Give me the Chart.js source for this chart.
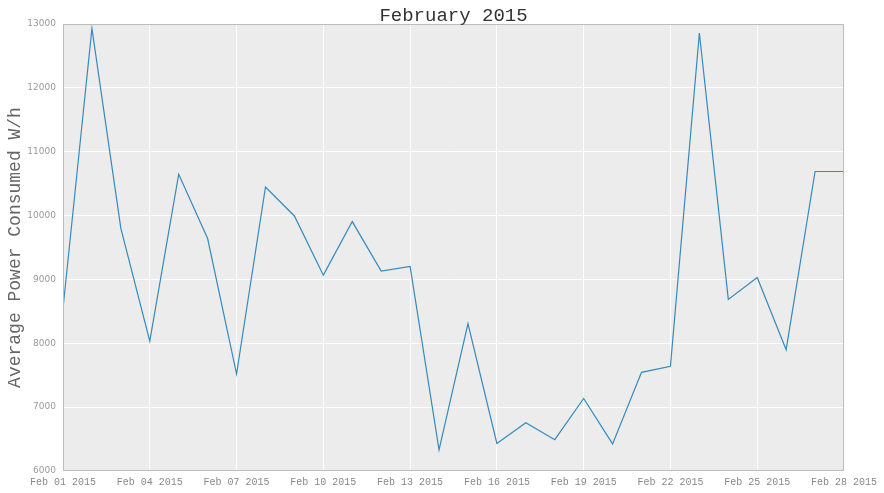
<!DOCTYPE html>
<html>
<head>
<meta charset="utf-8">
<script src="https://cdn.jsdelivr.net/npm/chart.js@4"></script>
<style>
html,body{margin:0;padding:0;background:#fff;}
#wrap{width:884px;height:493px;}
</style>
</head>
<body>
<div id="wrap"><canvas id="c" width="884" height="493"></canvas></div>
<script>
const days = [1,2,3,4,5,6,7,8,9,10,11,12,13,14,15,16,17,18,19,20,21,22,23,24,25,26,27,28];
const power = [8545,12930,9800,8033,10647,9640,7519,10448,9994,9067,9906,9130,9204,6330,8307,6431,6756,6490,7136,6425,7545,7640,12859,8687,9031,7900,10690,10690];
const xTickLabels = {1:'Feb 01 2015',4:'Feb 04 2015',7:'Feb 07 2015',10:'Feb 10 2015',13:'Feb 13 2015',16:'Feb 16 2015',19:'Feb 19 2015',22:'Feb 22 2015',25:'Feb 25 2015',28:'Feb 28 2015'};
const titleText = 'February 2015';
const yLabel = 'Average Power Consumed W/h';

const bgPlugin = {
  id:'bg',
  beforeDraw(chart){
    const a = chart.chartArea, ctx = chart.ctx;
    ctx.save();
    ctx.fillStyle = '#ececec';
    ctx.fillRect(a.left, a.top, a.right-a.left, a.bottom-a.top);
    ctx.restore();
  },
  afterDraw(chart){
    const a = chart.chartArea, ctx = chart.ctx;
    ctx.save();
    ctx.strokeStyle = '#bcbcbc';
    ctx.lineWidth = 1;
    ctx.strokeRect(Math.round(a.left)+0.5, Math.round(a.top)+0.5, Math.round(a.right-a.left)-1, Math.round(a.bottom-a.top)-1);
    ctx.fillStyle = '#333';
    ctx.font = '19px "Liberation Mono", monospace';
    ctx.textAlign = 'center';
    ctx.textBaseline = 'alphabetic';
    ctx.fillText(titleText, (a.left+a.right)/2, 21);
    ctx.restore();
  }
};

new Chart(document.getElementById('c'), {
  type:'line',
  data:{
    datasets:[{
      data: days.map((d,i)=>({x:d,y:power[i]})),
      borderColor:'#348ABD',
      borderWidth:1.2,
      pointRadius:0,
      fill:false,
      tension:0
    }]
  },
  options:{
    responsive:false,
    animation:false,
    layout:{padding:{top:24,right:40,left:0,bottom:0}},
    plugins:{legend:{display:false},tooltip:{enabled:false},title:{display:false}},
    scales:{
      x:{
        type:'linear', min:1, max:28,
        afterBuildTicks(s){ s.ticks = Object.keys(xTickLabels).map(k=>({value:+k})); },
        afterFit(s){ s.height = 22; },
        grid:{color:'#ffffff', lineWidth:1, drawTicks:false},
        border:{display:false},
        ticks:{
          autoSkip:false, maxRotation:0, padding:5,
          color:'#888', font:{family:'"Liberation Mono", monospace', size:10},
          callback:(v)=>xTickLabels[v] || ''
        }
      },
      y:{
        min:6000, max:13000,
        afterFit(s){ s.width = 63; },
        grid:{color:'#ffffff', lineWidth:1, drawTicks:false},
        border:{display:false},
        ticks:{
          stepSize:1000, padding:7,
          color:'#999', font:{family:'"DejaVu Sans", sans-serif', size:9},
          callback:(v)=>String(v)
        },
        title:{display:true, text:yLabel, color:'#666', padding:{top:4,bottom:0},
          font:{family:'"Liberation Mono", monospace', size:18, weight:'normal'}}
      }
    }
  },
  plugins:[bgPlugin]
});
</script>
</body>
</html>
